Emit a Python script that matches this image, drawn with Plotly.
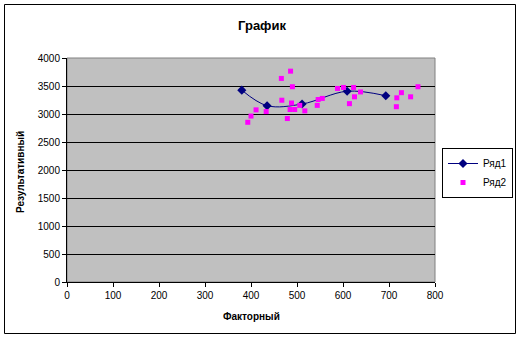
import plotly.graph_objects as go

# Data
s1_x = [380, 435, 511, 609, 693]
s1_y = [3426, 3148, 3178, 3407, 3326]

s2_x = [393, 400, 411, 433, 466, 467, 479, 486, 488, 490, 485, 495, 506, 517,
        544, 546, 555, 588, 601, 614, 623, 625, 638, 716, 717, 727, 747, 763]
s2_y = [2852, 2963, 3074, 3043, 3635, 3246, 2919, 3765, 3196, 3487, 3080, 3080, 3154, 3056,
        3154, 3259, 3278, 3456, 3474, 3185, 3474, 3307, 3394, 3130, 3289, 3381, 3307, 3487]

title_text = "График"
x_title = "Факторный"
y_title = "Результативный"
series_names = ["Ряд1", "Ряд2"]

FONT = "Liberation Sans, Arial, sans-serif"
W, H = 522, 339
L, R, T, B = 67, 87, 58, 57
PW, PH = W - L - R, H - T - B

def px2paper_x(px):
    return (px - L) / PW

def px2paper_y(py):
    return 1 - (py - T) / PH

fig = go.Figure()
fig.add_trace(go.Scatter(
    x=s1_x, y=s1_y, mode="lines+markers", name=series_names[0],
    line=dict(color="#000080", width=1, shape="spline", smoothing=1.0),
    marker=dict(symbol="diamond", size=7, color="#000080"),
))
fig.add_trace(go.Scatter(
    x=s2_x, y=s2_y, mode="markers", name=series_names[1],
    marker=dict(symbol="square", size=5, color="#FF00FF"),
))

fig.update_layout(
    width=W, height=H,
    margin=dict(l=L, r=R, t=T, b=B, pad=0, autoexpand=False),
    paper_bgcolor="white",
    plot_bgcolor="#C0C0C0",
    font=dict(family=FONT, size=10, color="black"),
    title=dict(text="<b>" + title_text + "</b>", x=0.502, xref="container",
               y=1 - 25 / H, yref="container", xanchor="center", yanchor="middle",
               font=dict(size=13, family=FONT, color="black")),
    showlegend=True,
    legend=dict(xref="container", yref="container", x=442 / W, y=1 - 148 / H,
                xanchor="left", yanchor="top",
                bgcolor="white", bordercolor="black", borderwidth=1,
                font=dict(size=10, family=FONT), tracegroupgap=0,
                itemwidth=30),
    xaxis=dict(range=[0, 800], dtick=100, tick0=0, showgrid=False, zeroline=False,
               showline=True, linecolor="black", linewidth=1,
               ticks="outside", ticklen=4, tickcolor="black",
               tickfont=dict(size=10, family=FONT)),
    yaxis=dict(range=[0, 4000], dtick=500, tick0=0, showgrid=True, gridcolor="black",
               gridwidth=1, zeroline=False,
               showline=True, linecolor="black", linewidth=1,
               ticks="outside", ticklen=4, tickcolor="black",
               tickfont=dict(size=10, family=FONT)),
    shapes=[
        dict(type="rect", xref="paper", yref="paper", x0=0, x1=1, y0=0, y1=1,
             line=dict(color="#808080", width=1), layer="below"),
        dict(type="rect", xref="paper", yref="paper",
             x0=px2paper_x(4.5), x1=px2paper_x(515.5),
             y0=px2paper_y(333.5), y1=px2paper_y(4.5),
             line=dict(color="black", width=1)),
    ],
    annotations=[
        dict(text="<b>" + x_title + "</b>", xref="paper", yref="paper",
             x=px2paper_x(251), y=px2paper_y(316), xanchor="center", yanchor="middle",
             showarrow=False, font=dict(size=10, family=FONT)),
        dict(text="<b>" + y_title + "</b>", xref="paper", yref="paper",
             x=px2paper_x(20), y=px2paper_y(172), xanchor="center", yanchor="middle",
             textangle=-90, showarrow=False, font=dict(size=10, family=FONT)),
    ],
)

fig.write_html("out.html")
